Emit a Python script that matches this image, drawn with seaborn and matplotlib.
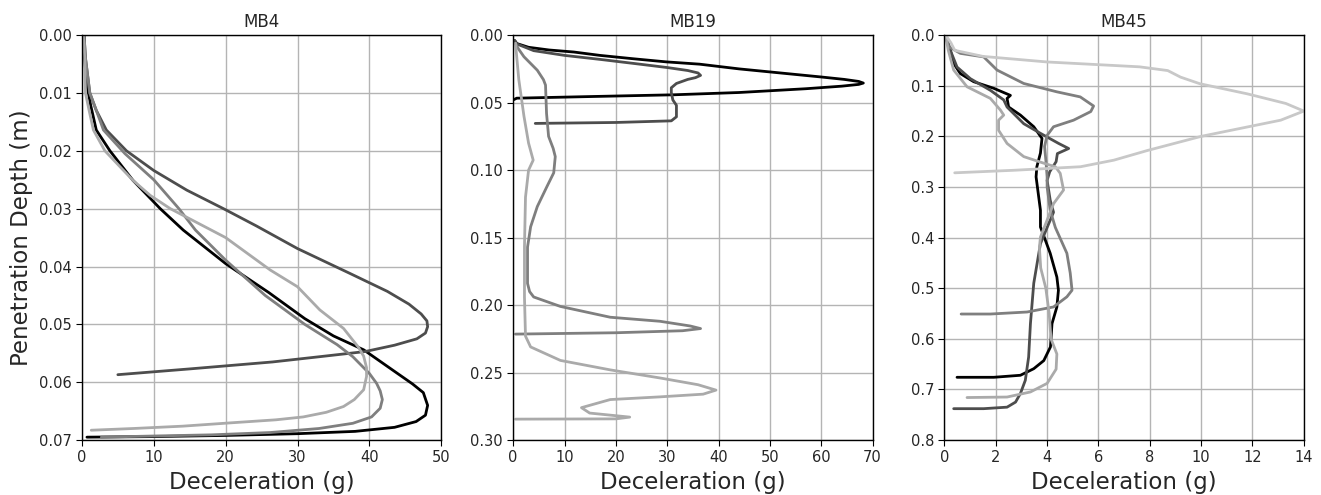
import pandas as pd
import matplotlib
matplotlib.use("Agg")
import matplotlib.pyplot as plt
import seaborn as sns

# Line colours (black -> light grey)
colors = ["#000000", "#4d4d4d", "#7f7f7f", "#aaaaaa", "#c8c8c8"]

# ---- MB4 ----
mb4_black_x = [0.3, 0.4, 0.6, 1.2, 2.0, 3.9, 7.1, 10.9, 14.1, 20.0, 26.0, 31.0, 35.0, 39.2, 43.0, 46.0, 47.5, 48.1, 47.8, 46.5, 43.5, 38.0, 30.0, 20.0, 10.0, 0.7]
mb4_black_y = [0.000, 0.004, 0.008, 0.012, 0.0164, 0.020, 0.0251, 0.030, 0.0337, 0.0395, 0.0445, 0.049, 0.052, 0.0544, 0.0577, 0.0603, 0.0618, 0.0640, 0.0657, 0.0668, 0.0678, 0.0685, 0.0689, 0.0692, 0.0694, 0.0695]

mb4_dark_x = [0.3, 0.5, 1.1, 2.0, 3.4, 6.2, 10.0, 14.6, 19.7, 24.3, 30.0, 37.3, 42.5, 45.5, 47.2, 48.0, 48.1, 47.8, 46.6, 43.5, 39.4, 33.0, 26.5, 15.0, 5.0]
mb4_dark_y = [0.000, 0.004, 0.010, 0.013, 0.0164, 0.020, 0.0234, 0.0268, 0.030, 0.033, 0.0369, 0.0412, 0.0443, 0.0465, 0.0482, 0.0494, 0.0504, 0.0515, 0.0525, 0.0536, 0.0547, 0.0556, 0.0565, 0.0577, 0.0587]

mb4_mid_x = [0.3, 0.5, 1.1, 2.0, 3.0, 6.0, 10.0, 13.5, 15.8, 20.0, 25.5, 31.0, 35.5, 37.7, 40.0, 41.0, 41.5, 41.8, 41.5, 40.3, 37.7, 33.0, 26.2, 18.0, 10.0, 2.7]
mb4_mid_y = [0.000, 0.004, 0.010, 0.013, 0.0164, 0.0205, 0.025, 0.030, 0.0337, 0.0389, 0.045, 0.050, 0.0535, 0.0556, 0.0585, 0.0602, 0.0615, 0.0630, 0.0645, 0.0660, 0.0671, 0.0680, 0.0687, 0.0691, 0.0693, 0.0695]

mb4_light_x = [0.2, 0.4, 0.5, 1.0, 1.6, 3.2, 7.1, 9.5, 12.3, 20.0, 26.2, 30.0, 33.1, 36.4, 38.5, 39.2, 39.6, 39.6, 39.2, 37.9, 36.4, 34.0, 30.8, 27.0, 21.0, 14.0, 7.2, 1.3]
mb4_light_y = [0.000, 0.004, 0.010, 0.013, 0.0164, 0.020, 0.0251, 0.0277, 0.030, 0.035, 0.0406, 0.0435, 0.0475, 0.0507, 0.054, 0.0555, 0.0575, 0.059, 0.0613, 0.0630, 0.0642, 0.0652, 0.066, 0.0665, 0.067, 0.0676, 0.068, 0.0683]

# ---- MB19 ----
mb19_black_x = [0.3, 0.7, 3.0, 7.0, 11.8, 16.9, 23.4, 29.8, 36.3, 44.0, 52.0, 60.0, 64.5, 67.3, 68.2, 67.3, 64.0, 57.0, 44.0, 31.2, 15.0, 0.7, 0.0]
mb19_black_y = [0.004, 0.0062, 0.009, 0.011, 0.0125, 0.015, 0.0175, 0.0198, 0.0215, 0.025, 0.028, 0.031, 0.0328, 0.0343, 0.0355, 0.0365, 0.0378, 0.0397, 0.0425, 0.0442, 0.0455, 0.0467, 0.048]

mb19_dark_x = [0.3, 0.7, 4.0, 10.0, 17.0, 24.0, 30.0, 34.0, 36.0, 36.5, 35.5, 34.0, 31.8, 30.8, 30.8, 31.1, 31.8, 31.8, 30.8, 20.0, 4.3]
mb19_dark_y = [0.004, 0.0065, 0.0115, 0.015, 0.018, 0.0212, 0.024, 0.0262, 0.0280, 0.0298, 0.0315, 0.0328, 0.0358, 0.039, 0.0425, 0.048, 0.052, 0.0605, 0.0635, 0.0647, 0.0654]

mb19_mid_x = [0.45, 1.0, 2.1, 3.4, 4.7, 5.9, 6.3, 6.5, 6.9, 7.8, 8.2, 7.9, 6.6, 4.7, 3.4, 2.8, 2.8, 3.2, 4.0, 9.2, 18.9, 28.6, 34.5, 36.5, 33.0, 20.0, 0.45]
mb19_mid_y = [0.006, 0.010, 0.016, 0.021, 0.026, 0.033, 0.037, 0.058, 0.075, 0.084, 0.090, 0.102, 0.112, 0.127, 0.142, 0.157, 0.184, 0.190, 0.194, 0.201, 0.209, 0.212, 0.2155, 0.2174, 0.219, 0.2205, 0.2215]

mb19_light_x = [0.45, 1.1, 2.1, 3.0, 3.9, 3.0, 2.4, 2.2, 2.2, 2.4, 3.4, 9.2, 18.9, 28.6, 36.0, 39.5, 37.0, 28.6, 18.9, 13.3, 14.9, 22.7, 20.0, 0.45]
mb19_light_y = [0.006, 0.033, 0.060, 0.080, 0.0926, 0.100, 0.120, 0.157, 0.194, 0.223, 0.231, 0.241, 0.248, 0.254, 0.259, 0.263, 0.266, 0.268, 0.270, 0.276, 0.280, 0.283, 0.2843, 0.2845]

# ---- MB45 ----
mb45_black_x = [0.04, 0.23, 0.36, 0.62, 1.14, 1.92, 2.57, 2.44, 2.5, 2.96, 3.48, 3.8, 3.74, 3.6, 3.57, 3.74, 3.74, 4.12, 4.38, 4.44, 4.38, 4.19, 4.13, 3.87, 3.48, 2.96, 1.92, 0.49]
mb45_black_y = [0.0, 0.03, 0.056, 0.076, 0.092, 0.105, 0.119, 0.125, 0.142, 0.158, 0.181, 0.204, 0.233, 0.26, 0.28, 0.346, 0.379, 0.431, 0.478, 0.504, 0.537, 0.57, 0.616, 0.643, 0.659, 0.672, 0.676, 0.676]

mb45_dark_x = [0.04, 0.23, 0.49, 1.01, 1.79, 2.31, 2.44, 3.09, 3.74, 4.45, 4.84, 4.4, 4.35, 4.1, 4.0, 4.12, 4.25, 4.0, 3.74, 3.48, 3.35, 3.28, 3.15, 2.96, 2.77, 2.44, 1.53, 0.36]
mb45_dark_y = [0.0, 0.03, 0.063, 0.086, 0.109, 0.128, 0.142, 0.175, 0.194, 0.214, 0.224, 0.234, 0.25, 0.27, 0.287, 0.326, 0.35, 0.38, 0.412, 0.49, 0.57, 0.636, 0.682, 0.708, 0.725, 0.735, 0.738, 0.738]

mb45_mid_x = [0.04, 0.17, 0.62, 1.53, 2.05, 3.09, 4.38, 5.29, 5.81, 5.7, 5.03, 4.25, 4.0, 3.9, 3.95, 4.0, 4.0, 4.12, 4.32, 4.77, 4.9, 4.97, 4.77, 4.25, 3.22, 1.79, 0.65]
mb45_mid_y = [0.0, 0.023, 0.036, 0.043, 0.069, 0.0955, 0.112, 0.122, 0.14, 0.151, 0.168, 0.181, 0.198, 0.22, 0.247, 0.28, 0.30, 0.346, 0.38, 0.431, 0.47, 0.504, 0.517, 0.537, 0.547, 0.551, 0.551]

mb45_light_x = [0.04, 0.15, 0.36, 0.88, 1.79, 2.18, 2.31, 2.11, 2.11, 2.44, 3.09, 3.87, 4.32, 4.51, 4.64, 4.25, 3.74, 3.7, 3.75, 3.95, 4.08, 4.15, 4.38, 4.35, 4.0, 3.35, 2.44, 0.88]
mb45_light_y = [0.0, 0.03, 0.069, 0.102, 0.125, 0.148, 0.158, 0.168, 0.188, 0.214, 0.24, 0.253, 0.26, 0.273, 0.306, 0.333, 0.399, 0.42, 0.46, 0.5, 0.55, 0.6, 0.63, 0.66, 0.688, 0.705, 0.715, 0.716]

mb45_lightest_x = [0.05, 0.25, 0.4, 1.5, 4.0, 7.6, 8.7, 9.2, 9.95, 11.8, 13.3, 14.0, 13.1, 10.0, 7.9, 6.6, 5.3, 2.7, 0.4]
mb45_lightest_y = [0.0, 0.015, 0.03, 0.042, 0.053, 0.0626, 0.07, 0.083, 0.096, 0.116, 0.135, 0.15, 0.168, 0.2, 0.228, 0.247, 0.26, 0.267, 0.272]

panels = [
    ("MB4", [(mb4_black_x, mb4_black_y, 0), (mb4_dark_x, mb4_dark_y, 1),
             (mb4_mid_x, mb4_mid_y, 2), (mb4_light_x, mb4_light_y, 3)],
     (0, 50), [0, 10, 20, 30, 40, 50], (0.07, 0.0), [i * 0.01 for i in range(8)], "{:.2f}"),
    ("MB19", [(mb19_black_x, mb19_black_y, 0), (mb19_dark_x, mb19_dark_y, 1),
              (mb19_mid_x, mb19_mid_y, 2), (mb19_light_x, mb19_light_y, 3)],
     (0, 70), [0, 10, 20, 30, 40, 50, 60, 70], (0.30, 0.0), [i * 0.05 for i in range(7)], "{:.2f}"),
    ("MB45", [(mb45_black_x, mb45_black_y, 0), (mb45_dark_x, mb45_dark_y, 1),
              (mb45_mid_x, mb45_mid_y, 2), (mb45_light_x, mb45_light_y, 3),
              (mb45_lightest_x, mb45_lightest_y, 4)],
     (0, 14), [0, 2, 4, 6, 8, 10, 12, 14], (0.8, 0.0), [i * 0.1 for i in range(9)], "{:.1f}"),
]

sns.set_style("ticks")
plt.rcParams["font.family"] = ["DejaVu Sans"]

fig, axes = plt.subplots(1, 3, figsize=(13.21, 4.95), dpi=100)
fig.subplots_adjust(left=0.062, right=0.987, bottom=0.111, top=0.929, wspace=0.2)

for ax, (title, curves, xlim, xticks, ylim, yticks, fmt) in zip(axes, panels):
    for xs, ys, c in curves:
        df = pd.DataFrame({"decel": xs, "depth": ys})
        sns.lineplot(data=df, x="decel", y="depth", sort=False, estimator=None,
                     color=colors[c], lw=2, ax=ax)
    ax.set_xlim(*xlim)
    ax.set_ylim(*ylim)
    ax.set_xticks(xticks)
    ax.set_yticks(yticks)
    ax.set_yticklabels([fmt.format(v) for v in yticks])
    ax.grid(True, color="#b4b4b4", lw=1)
    ax.set_axisbelow(True)
    ax.set_title(title, fontsize=12)
    ax.set_xlabel("Deceleration (g)", fontsize=16.5)
    ax.set_ylabel("")
    ax.tick_params(labelsize=10.5, length=4, color="black")
    for s in ax.spines.values():
        s.set_color("black")
        s.set_linewidth(1)

axes[0].set_ylabel("Penetration Depth (m)", fontsize=16.5)

plt.savefig("out.png", dpi=100)
